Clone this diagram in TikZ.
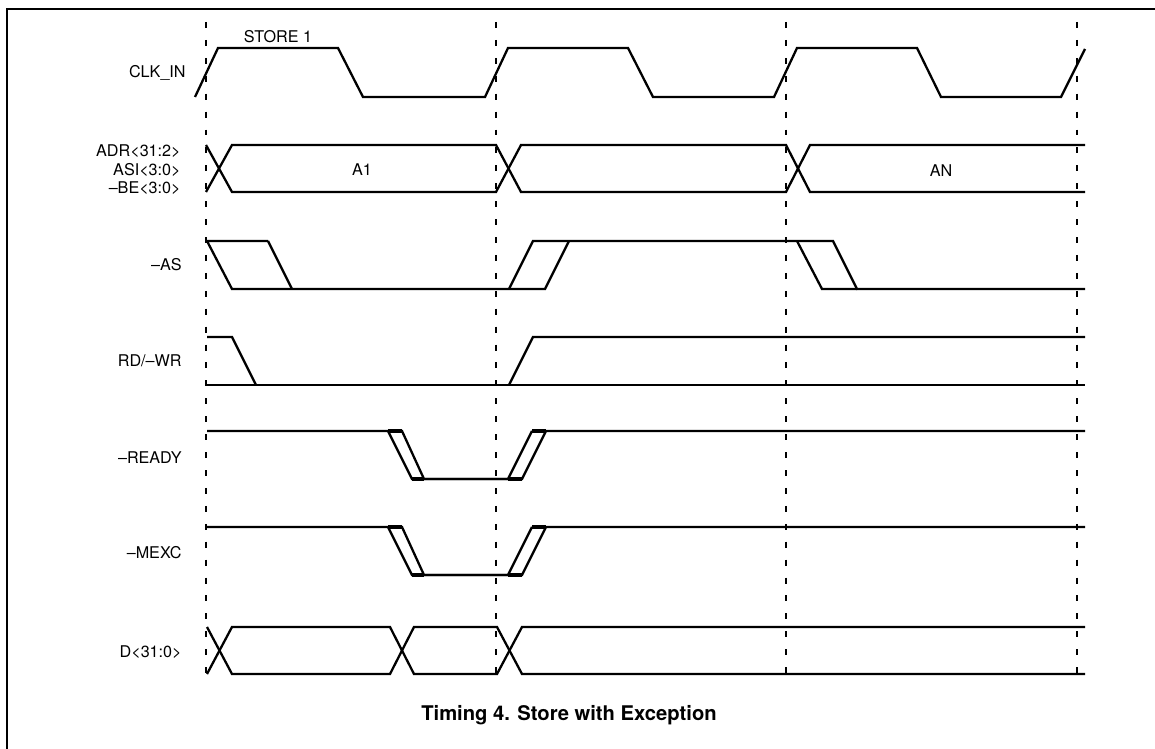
\documentclass[tikz,border=0pt]{standalone}
\usepackage{fontspec}
\setmainfont{TeX Gyre Heros}
\usepackage{tikz}

\tikzset{
  sig/.style={line width=1.3pt, line join=miter},
  bandcap/.style={line width=2.2pt},
  tick/.style={line width=0.9pt, dash pattern=on 3.4pt off 6.8pt},
  siglabel/.style={anchor=east, inner sep=0pt, font=\fontsize{9.2}{10.5}\selectfont, align=right},
  buslabel/.style={inner sep=0pt, font=\fontsize{9.2}{10.5}\selectfont}
}

\begin{document}
\begin{tikzpicture}[x=0.02cm, y=-0.02cm]
      \useasboundingbox (0,0) rectangle (1155,749);
      % frame
      \draw [line width=1.3pt] (7,749) -- (7,9) -- (1155,9);
      % clock edges
      \foreach \x in {206,496,786,1077}
        \draw [tick] (\x,22) -- (\x,677);

      % labels
      \node [siglabel] (clk) at (186,73) {CLK\_IN};
      \node [siglabel] (adr) at (181,170) {ADR<31:2>\\ASI<3:0>\\--BE<3:0>};
      \node [siglabel] (as) at (182,265) {--AS};
      \node [siglabel] (rdwr) at (182,361) {RD/--WR};
      \node [siglabel] (ready) at (182,458) {--READY};
      \node [siglabel] (mexc) at (182,553) {--MEXC};
      \node [siglabel] (data) at (182,652) {D<31:0>};
      \node [buslabel] (store) at (278,37) {STORE 1};
      \node [buslabel] (aone) at (362,170) {A1};
      \node [buslabel] (an) at (941,171) {AN};

      % CLK_IN
      \draw [sig] (195,97) -- (218,48) -- (338,48) -- (363,97) -- (485,97) -- (508,48)
        -- (628,48) -- (653,97) -- (774,97) -- (797,48) -- (917,48) -- (941,97)
        -- (1061,97) -- (1085,49);

      % ADR / ASI / BE
      \draw [sig] (206,145) -- (232,192) -- (496,192) -- (521,145) -- (786,145) -- (810,192) -- (1085,192);
      \draw [sig] (206,192) -- (232,145) -- (496,145) -- (521,192) -- (786,192) -- (810,145) -- (1085,145);

      % -AS
      \draw [sig] (268,241) -- (207,241) -- (232,289) -- (545,289) -- (569,241);
      \draw [sig] (268,241) -- (292,289);
      \draw [sig] (509,289) -- (533,241) -- (833,241) -- (857,289) -- (1085,289);
      \draw [sig] (797,241) -- (822,289) -- (857,289);

      % RD/-WR
      \draw [sig] (207,337) -- (232,337) -- (256,385);
      \draw [sig] (207,385) -- (1085,385);
      \draw [sig] (509,385) -- (533,337) -- (1085,337);

      % -READY and -MEXC
      \foreach \y in {431,527} {
        \draw [sig] (207,\y) -- (402,\y) -- (424,\y+48) -- (522,\y+48) -- (546,\y) -- (1085,\y);
        \draw [sig] (388,\y) -- (412,\y+48) -- (508,\y+48) -- (532,\y);
        \draw [bandcap] (388,\y) -- (402,\y) (412,\y+48) -- (424,\y+48)
          (508,\y+48) -- (522,\y+48) (532,\y) -- (546,\y);
      }

      % D<31:0>
      \draw [sig] (207,627) -- (232,674) -- (390,674) -- (414,627) -- (497,627) -- (522,674) -- (1085,674);
      \draw [sig] (207,674) -- (232,627) -- (390,627) -- (414,674) -- (497,674) -- (522,627) -- (1085,627);

      \node [inner sep=0pt, font=\bfseries\fontsize{11.5}{13}\selectfont] (title) at (569,715)
        {Timing 4. Store with Exception};
    \end{tikzpicture}
\end{document}
